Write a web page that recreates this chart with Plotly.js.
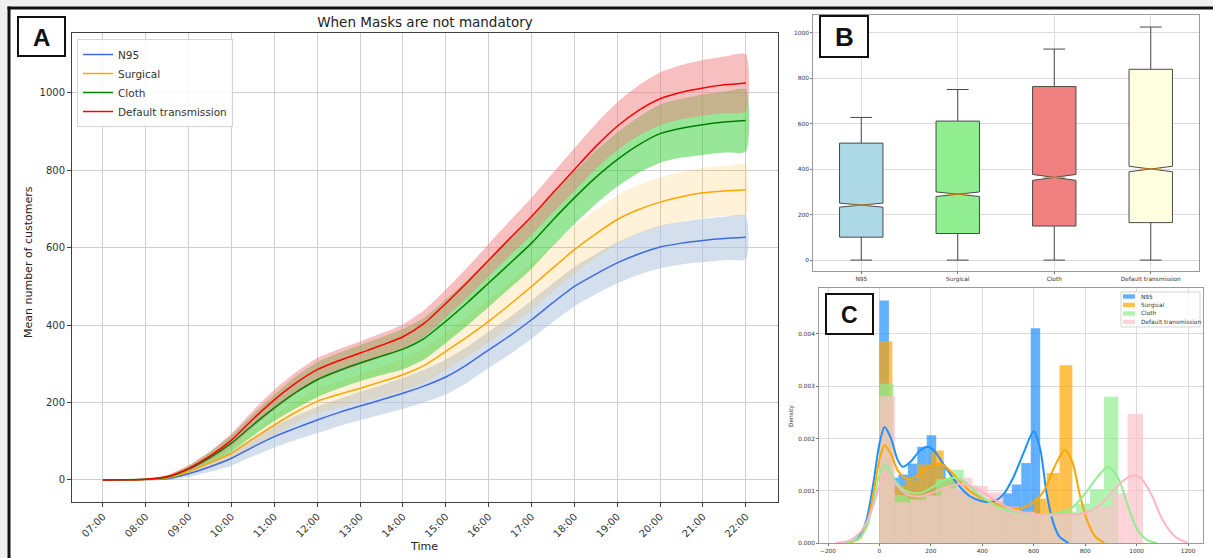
<!DOCTYPE html>
<html><head><meta charset="utf-8">
<script src="https://cdn.plot.ly/plotly-3.0.1.min.js"></script>
<style>html,body{margin:0;padding:0;background:#fff;} #chart{width:1213px;height:558px;}</style>
</head><body><div id="chart"></div>
<script>
const W = 1213, H = 558;

// ---------- Panel A data ----------
const timePoints = [7,7.5,8,8.5,9,9.5,10,10.5,11,11.5,12,12.5,13,13.5,14,14.5,15,15.5,16,16.5,17,17.5,18,18.5,19,19.5,20,20.5,21,21.5,22];
const hourTicks = [7,8,9,10,11,12,13,14,15,16,17,18,19,20,21,22];
const hourLabels = ['07:00','08:00','09:00','10:00','11:00','12:00','13:00','14:00','15:00','16:00','17:00','18:00','19:00','20:00','21:00','22:00'];
const seriesNames = ['N95','Surgical','Cloth','Default transmission'];

const meanN95      = [0,0.1,1,3,16,34,56,85,112,134,155,174,191,207,224,243,266,298,336,373,414,458,500,532,561,584,602,612,619,624,627];
const meanSurgical = [0,0.2,1,5,22,44,69,106,142,175,203,221,237,254,272,296,332,370,410,454,500,548,595,636,673,699,718,732,742,747,750];
const meanCloth    = [0,0.3,1.5,7,28,58,95,142,186,226,259,282,302,320,338,366,410,458,509,560,612,672,729,782,828,866,895,909,918,925,929];
const meanDefault  = [0,0.5,2,9,30,62,103,157,207,250,285,308,328,348,370,405,456,510,568,625,681,742,802,862,914,955,985,1002,1013,1021,1026];

const spreadN95      = [0,0,0.5,3,8,13,19,24,28,31,34,35,37,38,40,42,45,46,47,48,49,50,51,52,53,54,55,55,56,56,56];
const spreadSurgical = [0,0,0.5,3,7,12,17,22,26,29,32,34,36,39,42,45,48,51,55,58,60,61,62,62,63,63,64,64,65,65,65];
const spreadCloth    = [0,0,1,4,8,14,21,28,34,41,45,46,47,49,52,54,56,59,62,64,66,67,68,69,70,72,75,76,78,79,80];
const spreadDefault  = [0,0,1,4,8,12,17,22,26,28,30,30,30,31,32,34,36,39,42,45,48,51,55,58,62,65,68,70,72,73,74];

// ---------- Panel B data ----------
const boxLow    = [0,0,0,0];
const boxQ1     = [101,117,150,165];
const boxMedian = [242,290,364,401];
const boxQ3     = [515,612,764,840];
const boxHigh   = [628,751,929,1026];
const boxNotch  = [9,10,13,12];

// ---------- Panel C data ----------
const histMax = [625,750,928,1025];
const histN95      = [0.00464,0.00125,0.00131,0.00152,0.00184,0.00206,0.00150,0.00120,0.00100,0.00090,0.00080,0.00075,0.00079,0.00095,0.00112,0.00153,0.00411];
const histSurgical = [0.00386,0.00110,0.00120,0.00150,0.00177,0.00125,0.00100,0.00090,0.00080,0.00070,0.00065,0.00060,0.00085,0.00134,0.00340];
const histCloth    = [0.00305,0.00092,0.00085,0.00092,0.00122,0.00140,0.00110,0.00085,0.00070,0.00062,0.00058,0.00055,0.00055,0.00060,0.00075,0.00103,0.00280];
const histDefault  = [0.00281,0.00078,0.00082,0.00090,0.00105,0.00125,0.00109,0.00097,0.00070,0.00060,0.00055,0.00055,0.00055,0.00060,0.00070,0.00095,0.00247];

const kdeN95X = [-135,-100,-75,-50,-25,0,20,45,70,90,120,160,190,220,250,300,350,400,440,480,520,560,600,625,650,675,700,735];
const kdeN95Y = [0,0.00004,0.00015,0.00045,0.0011,0.0019,0.00222,0.0020,0.0016,0.00146,0.00155,0.00178,0.00184,0.00172,0.0015,0.00115,0.0009,0.0008,0.00079,0.00092,0.00125,0.00172,0.00214,0.0018,0.00095,0.0004,0.00012,0];
const kdeSurgicalX = [-125,-100,-75,-50,-25,0,20,45,70,100,120,150,190,237,270,300,350,400,450,500,530,560,600,640,680,720,750,780,810,840,875];
const kdeSurgicalY = [0,0.00003,0.0001,0.00035,0.0009,0.0016,0.00187,0.0017,0.0014,0.00124,0.00122,0.0013,0.00145,0.00152,0.0014,0.00125,0.001,0.00085,0.00075,0.00068,0.00066,0.00068,0.00078,0.001,0.00145,0.00178,0.00155,0.0009,0.0004,0.00012,0];
const kdeClothX = [-150,-100,-75,-50,-25,0,25,60,100,153,200,250,288,330,380,430,480,530,600,650,700,750,800,850,890,930,960,1000,1040,1080];
const kdeClothY = [0,0.00004,0.00012,0.0003,0.00075,0.0013,0.00149,0.0012,0.001,0.00095,0.00105,0.0012,0.00125,0.00118,0.00095,0.00078,0.00066,0.00059,0.00055,0.00055,0.00058,0.00068,0.00095,0.00128,0.00146,0.00122,0.0008,0.00028,0.00006,0];
const kdeDefaultX = [-170,-120,-75,-50,-25,0,25,60,100,153,200,250,314,360,400,450,500,550,600,650,700,750,800,850,900,950,990,1020,1060,1100,1150,1200];
const kdeDefaultY = [0,0.00004,0.0002,0.0004,0.0007,0.0011,0.00135,0.00115,0.00095,0.00089,0.00095,0.00105,0.00113,0.00108,0.00097,0.00082,0.00068,0.00059,0.00055,0.00053,0.00053,0.00054,0.00058,0.0007,0.00095,0.0012,0.00129,0.00122,0.0009,0.00045,0.00012,0];

// ---------- styles ----------
const lineColors = ['#4169e1','#ffa500','#008000','#ff0000'];
const bandColors = ['rgba(176,196,222,0.55)','rgba(255,165,0,0.15)','rgba(50,205,50,0.5)','rgba(240,128,128,0.5)'];
const boxColors = ['#add8e6','#90ee90','#f08080','#ffffe0'];
const histColors = ['rgba(30,144,255,0.7)','rgba(255,165,0,0.7)','rgba(144,238,144,0.7)','rgba(255,192,203,0.7)'];
const kdeColors = ['#1e90ff','#ffa500','#90ee90','#ffb6c1'];
const smallFont = 5.8;

const px = x => x / W;
const py = y => 1 - y / H;

const means = [meanN95, meanSurgical, meanCloth, meanDefault];
const spreads = [spreadN95, spreadSurgical, spreadCloth, spreadDefault];
const hists = [histN95, histSurgical, histCloth, histDefault];
const kdeX = [kdeN95X, kdeSurgicalX, kdeClothX, kdeDefaultX];
const kdeY = [kdeN95Y, kdeSurgicalY, kdeClothY, kdeDefaultY];

const traces = [];
// Panel A bands
for (let i = 0; i < 4; i++) {
  const up = means[i].map((m, k) => m + spreads[i][k]);
  const lo = means[i].map((m, k) => m - spreads[i][k]);
  traces.push({
    type: 'scatter', mode: 'lines', xaxis: 'x', yaxis: 'y',
    x: timePoints.concat(timePoints.slice().reverse()),
    y: up.concat(lo.slice().reverse()),
    fill: 'toself', fillcolor: bandColors[i], line: {width: 0, shape: 'spline', smoothing: 0.6},
    showlegend: false, hoverinfo: 'skip'
  });
}
// Panel A lines
for (let i = 0; i < 4; i++) {
  traces.push({
    type: 'scatter', mode: 'lines', xaxis: 'x', yaxis: 'y',
    x: timePoints, y: means[i], name: seriesNames[i],
    line: {color: lineColors[i], width: 1.5, shape: 'spline', smoothing: 0.6},
    legend: 'legend'
  });
}
// Panel B boxes
const boxWidth = 0.45, notchW = 0.5;
for (let i = 0; i < 4; i++) {
  traces.push({
    type: 'box', xaxis: 'x2', yaxis: 'y2', x: [i + 1],
    q1: [boxQ1[i]], median: [boxMedian[i]], q3: [boxQ3[i]],
    lowerfence: [boxLow[i]], upperfence: [boxHigh[i]], notchspan: [boxNotch[i]],
    notched: true, notchwidth: notchW, width: boxWidth, whiskerwidth: 0.5,
    fillcolor: boxColors[i], line: {color: '#4a4a4a', width: 1},
    boxpoints: false, showlegend: false, hoverinfo: 'skip'
  });
}
for (let i = 0; i < 4; i++) {
  const hw = boxWidth / 2 * (1 - notchW);
  traces.push({
    type: 'scatter', mode: 'lines', xaxis: 'x2', yaxis: 'y2',
    x: [i + 1 - hw, i + 1 + hw], y: [boxMedian[i], boxMedian[i]],
    line: {color: 'rgba(255,140,0,0.75)', width: 1.2}, showlegend: false, hoverinfo: 'skip'
  });
}
// Panel C histograms
for (let i = 0; i < 4; i++) {
  const bw = histMax[i] / hists[i].length;
  traces.push({
    type: 'bar', xaxis: 'x3', yaxis: 'y3',
    x: hists[i].map((v, k) => bw * (k + 0.5)), y: hists[i], width: bw,
    marker: {color: histColors[i], line: {width: 0}},
    name: seriesNames[i], showlegend: false, hoverinfo: 'skip'
  });
}
// Panel C KDE
for (let i = 0; i < 4; i++) {
  traces.push({
    type: 'scatter', mode: 'lines', xaxis: 'x3', yaxis: 'y3',
    x: kdeX[i], y: kdeY[i], line: {color: kdeColors[i], width: 2, shape: 'spline', smoothing: 0.8},
    showlegend: false, hoverinfo: 'skip'
  });
}

const axA = {showline: true, mirror: true, linecolor: '#404040', linewidth: 1, ticks: 'outside', ticklen: 4,
  tickcolor: '#404040', showgrid: true, gridcolor: '#cfcfcf', gridwidth: 1, zeroline: false,
  tickfont: {size: 10, color: '#333'}};
const axS = {showline: true, mirror: true, linecolor: '#9a9a9a', linewidth: 1, ticks: 'outside', ticklen: 2,
  tickcolor: '#777', showgrid: true, gridcolor: '#dcdcdc', gridwidth: 1, zeroline: false,
  tickfont: {size: smallFont, color: '#333'}};

// Manual compact legend for panel C
const legC = {x0: 1121, x1: 1200, y0: 292, y1: 327, rows: [296.5, 305, 313.5, 322]};
const legShapes = [{type: 'rect', xref: 'paper', yref: 'paper', x0: px(legC.x0), x1: px(legC.x1), y0: py(legC.y1), y1: py(legC.y0),
  fillcolor: 'rgba(255,255,255,0.85)', line: {color: '#d5d5d5', width: 1}, layer: 'above'}];
const legAnn = [];
seriesNames.forEach((nm, i) => {
  const yc = legC.rows[i];
  legShapes.push({type: 'rect', xref: 'paper', yref: 'paper', x0: px(1123), x1: px(1135), y0: py(yc + 2.2), y1: py(yc - 2.2),
    fillcolor: histColors[i], line: {width: 0}, layer: 'above'});
  legAnn.push({text: nm, xref: 'paper', yref: 'paper', x: px(1138.5), y: py(yc), xanchor: 'left', yanchor: 'middle',
    showarrow: false, font: {size: smallFont, color: '#333'}});
});

const layout = {
  width: W, height: H, margin: {l: 0, r: 0, t: 0, b: 0},
  paper_bgcolor: '#ffffff', plot_bgcolor: '#ffffff',
  font: {family: 'DejaVu Sans', color: '#333'},
  barmode: 'overlay', showlegend: true,
  title: {text: 'When Masks are not mandatory', x: px(425), xanchor: 'center', y: py(22), yanchor: 'middle',
    xref: 'paper', yref: 'paper', font: {size: 13.5, color: '#222', family: 'DejaVu Sans'}},
  xaxis: Object.assign({}, axA, {domain: [px(72), px(778)], range: [6.28, 22.75], tickvals: hourTicks,
    ticktext: hourLabels, tickangle: -45, anchor: 'y'}),
  yaxis: Object.assign({}, axA, {domain: [py(502), py(33)], range: [-57, 1155], tickvals: [0,200,400,600,800,1000], anchor: 'x'}),
  xaxis2: Object.assign({}, axS, {domain: [px(813), px(1199)], range: [0.5, 4.5], tickvals: [1,2,3,4], ticktext: seriesNames, anchor: 'y2'}),
  yaxis2: Object.assign({}, axS, {domain: [py(271), py(15)], range: [-48, 1079], tickvals: [0,200,400,600,800,1000], anchor: 'x2'}),
  xaxis3: Object.assign({}, axS, {domain: [px(819), px(1203)], range: [-235, 1258], tickvals: [-200,0,200,400,600,800,1000,1200], anchor: 'y3'}),
  yaxis3: Object.assign({}, axS, {domain: [py(543), py(288)], range: [0, 0.00488], tickvals: [0,0.001,0.002,0.003,0.004], tickformat: '.3f', anchor: 'x3'}),
  legend: {x: px(77), y: py(39), xanchor: 'left', yanchor: 'top', bgcolor: 'rgba(255,255,255,0.85)',
    bordercolor: '#d5d5d5', borderwidth: 1, font: {size: 10.5, color: '#333'}, itemwidth: 30, tracegroupgap: 0},
  shapes: [
    {type: 'rect', xref: 'paper', yref: 'paper', x0: 0, x1: 1, y0: py(6.5), y1: 1, fillcolor: '#efefef', line: {width: 0}, layer: 'below'},
    {type: 'rect', xref: 'paper', yref: 'paper', x0: 0, x1: px(7.5), y0: 0, y1: 1, fillcolor: '#efefef', line: {width: 0}, layer: 'below'},
    {type: 'line', xref: 'paper', yref: 'paper', x0: px(7.5), x1: 1, y0: py(8), y1: py(8), line: {color: '#111', width: 3}},
    {type: 'line', xref: 'paper', yref: 'paper', x0: px(9), x1: px(9), y0: py(6.5), y1: 0, line: {color: '#111', width: 3}},
    {type: 'rect', xref: 'paper', yref: 'paper', x0: px(18), x1: px(65), y0: py(56), y1: py(17), fillcolor: '#fff', line: {color: '#111', width: 2}, layer: 'above'},
    {type: 'rect', xref: 'paper', yref: 'paper', x0: px(820), x1: px(868), y0: py(57), y1: py(16), fillcolor: '#fff', line: {color: '#111', width: 2}, layer: 'above'},
    {type: 'rect', xref: 'paper', yref: 'paper', x0: px(826), x1: px(873), y0: py(334), y1: py(294), fillcolor: '#fff', line: {color: '#111', width: 2}, layer: 'above'}
  ].concat(legShapes),
  annotations: [
    {text: '<b>A</b>', xref: 'paper', yref: 'paper', x: px(41.5), y: py(37), xanchor: 'center', yanchor: 'middle', showarrow: false, font: {family: 'Liberation Sans', size: 24, color: '#111'}},
    {text: '<b>B</b>', xref: 'paper', yref: 'paper', x: px(844), y: py(37), xanchor: 'center', yanchor: 'middle', showarrow: false, font: {family: 'Liberation Sans', size: 26, color: '#111'}},
    {text: '<b>C</b>', xref: 'paper', yref: 'paper', x: px(849.5), y: py(314.5), xanchor: 'center', yanchor: 'middle', showarrow: false, font: {family: 'Liberation Sans', size: 23, color: '#111'}},
    {text: 'Mean number of customers', xref: 'paper', yref: 'paper', x: px(28), y: py(262), xanchor: 'center', yanchor: 'middle', textangle: -90, showarrow: false, font: {size: 11, color: '#222'}},
    {text: 'Time', xref: 'paper', yref: 'paper', x: px(424), y: py(546), xanchor: 'center', yanchor: 'middle', showarrow: false, font: {size: 11, color: '#222'}},
    {text: 'Density', xref: 'paper', yref: 'paper', x: px(791), y: py(416), xanchor: 'center', yanchor: 'middle', textangle: -90, showarrow: false, font: {size: smallFont, color: '#333'}}
  ].concat(legAnn)
};

Plotly.newPlot('chart', traces, layout, {staticPlot: true, displayModeBar: false});
</script>
</body></html>
